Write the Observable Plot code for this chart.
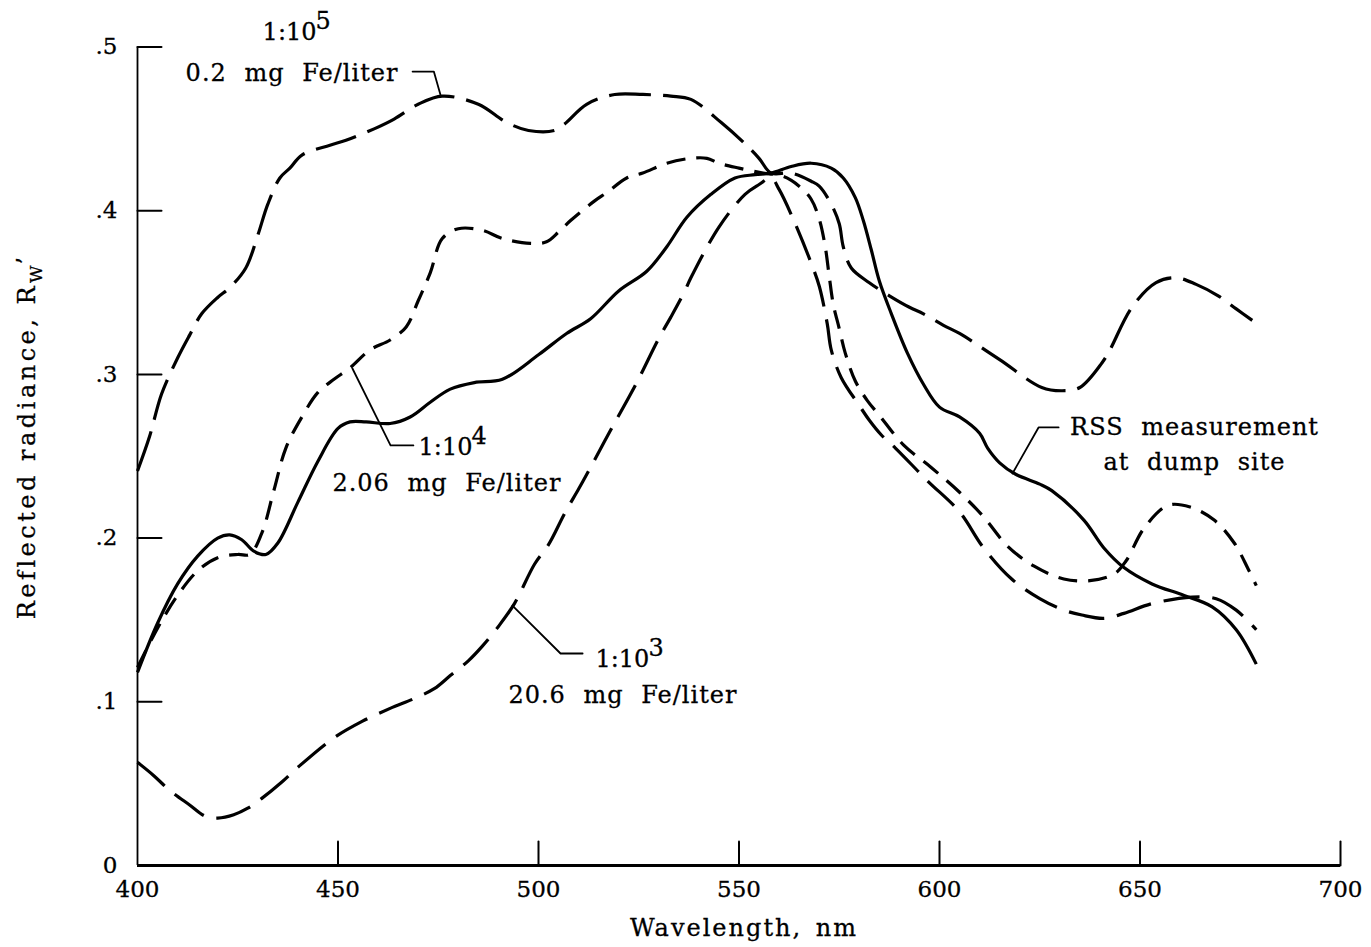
<!DOCTYPE html>
<html>
<head>
<meta charset="utf-8">
<script src="https://cdn.jsdelivr.net/npm/d3@7"></script>
<script src="https://cdn.jsdelivr.net/npm/@observablehq/plot@0.6"></script>
<style>
  body { margin: 0; background: #fff; }
  #chart svg { display: block; background: #fff; }
</style>
</head>
<body>
<div id="chart"></div>
<script>
// ---------- axis ticks ----------
const wavelengthTicks = [400, 450, 500, 550, 600, 650, 700];
const radianceTicks = [0, 0.1, 0.2, 0.3, 0.4, 0.5];
const radianceTickLabels = ["0", ".1", ".2", ".3", ".4", ".5"];

// ---------- RSS measurement at dump site (solid) ----------
const rssWavelength = [400,405,410,415,420,423,426,429,432,435,440,445,450,453,457,463,468,473,478,484,491,500,507,513,520,527,532,537,543,549,554,558,563,568,573,576,579,581,583,585,588,592,596,600,605,610,612,615,619,625,628,636,641,646,653,661,668,674,679];
const rssRadiance = [.118,.148,.172,.189,.200,.202,.199,.192,.190,.197,.222,.247,.267,.271,.271,.270,.274,.283,.291,.295,.297,.312,.325,.334,.351,.363,.378,.396,.410,.420,.422,.423,.427,.429,.426,.420,.408,.394,.376,.357,.337,.313,.294,.280,.274,.264,.255,.246,.239,.233,.229,.211,.194,.182,.172,.165,.158,.144,.123];

// ---------- 1:10^5, 0.2 mg Fe/liter (long dash) ----------
const e5Wavelength = [400,403,406,410,413,416,420,423,427,430,432.5,435.5,438,441,448,452,459,464,470,476,485,492,497.5,504,506.5,512,519,526,533,538,545.5,551,555,558,563,568,570,573,575,576,578,582.5,587.5,592.5,596,601,605,615,625.5,630.5,635,640.5,642.5,648,654,659,664,669.5,674,678];
const e5Radiance = [.241,.262,.288,.310,.324,.337,.347,.353,.365,.385,.404,.420,.426,.434,.440,.443,.450,.456,.465,.470,.465,.454,.449,.449,.453,.465,.471,.471,.470,.468,.454,.442,.432,.423,.423,.418,.415,.404,.392,.378,.365,.356,.348,.341,.337,.330,.325,.309,.292,.290,.292,.307,.315,.341,.356,.359,.355,.348,.340,.333];

// ---------- 1:10^4, 2.06 mg Fe/liter (short dash) ----------
const e4Wavelength = [400,405,410,415,420,425,428,431,434,437,441,445,449,453,458,463,467,470,473,476,480,486,491,498,502,505,508,514,517,522,526,532,538,542,545,550,556,561,565,568,570,571.5,572.5,573.5,575,576.5,579,582,585,591,598,605,611,617,623.5,631,637.5,643.5,646.5,651,657,662.5,668.5,673.5,677,679];
const e4Radiance = [.121,.145,.165,.180,.188,.190,.190,.203,.229,.255,.274,.289,.297,.304,.315,.321,.329,.345,.362,.383,.389,.388,.383,.380,.381,.387,.394,.406,.411,.420,.423,.429,.432,.432,.429,.426,.423,.421,.415,.407,.395,.378,.360,.343,.328,.313,.296,.284,.275,.257,.243,.228,.213,.195,.183,.175,.174,.178,.186,.206,.220,.219,.211,.197,.181,.171];

// ---------- 1:10^3, 20.6 mg Fe/liter (long dash) ----------
const e3Wavelength = [400,404,408,413,417,420,424,427.5,431,436,440,449,456,463,469,474,478,482.5,486,490,494,499,502.5,506.5,510,512.5,518,524.5,530,533,536.5,538,545,551.5,555,558,560,563.5,568,570,572,573,575.5,580,582.5,585.5,589,597,605,611,618,625,631,635.5,641,646,653,663,669,674,679];
const e3Radiance = [.063,.055,.046,.037,.030,.029,.031,.035,.041,.051,.060,.078,.088,.096,.102,.108,.116,.125,.134,.146,.160,.184,.196,.215,.230,.241,.266,.295,.322,.335,.351,.359,.390,.410,.416,.420,.413,.395,.368,.354,.331,.315,.298,.281,.272,.263,.255,.235,.216,.194,.175,.163,.156,.153,.151,.154,.160,.164,.163,.156,.144];

// ---------- annotation texts ----------
const ratioText = ["1:10", "1:10", "1:10"];
const ratioExponent = ["5", "4", "3"];
const ratioWavelength = [431.2, 470.1, 514.2];
const ratioRadiance = [0.504, 0.2505, 0.121];
const concText = ["0.2 mg Fe/liter", "2.06 mg Fe/liter", "20.6 mg Fe/liter"];
const concWavelength = [412.0, 448.6, 492.5];
const concRadiance = [0.479, 0.229, 0.099];
const rssLabel = ["RSS measurement", "at dump site"];
const rssLabelWavelength = [663.6, 663.6];
const rssLabelRadiance = [0.2627, 0.2413];

// leader lines (wavelength, radiance)
const leaderE5 = [[468.6, 0.485], [473.9, 0.485], [475.6, 0.4704]];
const leaderE4 = [[453.6, 0.3036], [463.1, 0.2566], [468.8, 0.2566]];
const leaderE3 = [[493.5, 0.1588], [505.5, 0.1295], [511.0, 0.1295]];
const leaderRss = [[618.2, 0.2395], [624.7, 0.2676], [629.7, 0.2676]];

// ---------- build tables ----------
const toRows = (wl, r) => wl.map((w, i) => ({wl: w, r: r[i]}));
const rssRows = toRows(rssWavelength, rssRadiance);
const e5Rows = toRows(e5Wavelength, e5Radiance);
const e4Rows = toRows(e4Wavelength, e4Radiance);
const e3Rows = toRows(e3Wavelength, e3Radiance);
const ratios = ratioText.map((t, i) => ({t, s: ratioExponent[i], wl: ratioWavelength[i], r: ratioRadiance[i]}));
const concs = concText.map((t, i) => ({t, wl: concWavelength[i], r: concRadiance[i]}));
const rssLabels = rssLabel.map((t, i) => ({t, wl: rssLabelWavelength[i], r: rssLabelRadiance[i]}));

const font = "DejaVu Serif";
const tickShape = { draw(context, l) { context.moveTo(0, 0); context.lineTo(0, -l); } };
const curveLine = (rows, dash) => Plot.line(rows, {
  x: "wl", y: "r", stroke: "#000", strokeWidth: 3.2, curve: "catmull-rom",
  strokeDasharray: dash, strokeLinecap: "butt", strokeLinejoin: "round"
});
const leader = (pts) => Plot.line(pts, {x: d => d[0], y: d => d[1], stroke: "#000", strokeWidth: 1.8});

const chart = Plot.plot({
  width: 1371,
  height: 947,
  marginLeft: 137,
  marginRight: 31,
  marginTop: 46.5,
  marginBottom: 82,
  style: {fontFamily: font, fontSize: "22px", color: "#000", background: "#fff"},
  x: {domain: [400, 700], axis: null},
  y: {domain: [0, 0.5], axis: null},
  marks: [
    // axes
    Plot.ruleX([400], {y1: 0, y2: 0.5, stroke: "#000", strokeWidth: 1.8}),
    Plot.ruleY([0], {x1: 400, x2: 700, stroke: "#000", strokeWidth: 3}),
    Plot.vector(radianceTicks.slice(1), {x: () => 400, y: d => d, length: 24, rotate: 90, anchor: "start", shape: tickShape, stroke: "#000", strokeWidth: 2}),
    Plot.vector(wavelengthTicks.slice(1), {x: d => d, y: () => 0, length: 24, rotate: 0, anchor: "start", shape: tickShape, stroke: "#000", strokeWidth: 2}),
    Plot.axisY({ticks: radianceTicks, tickFormat: (d, i) => radianceTickLabels[i], tickSize: 0, tickPadding: 20, fontSize: 23, label: null}),
    Plot.axisX({ticks: wavelengthTicks, tickFormat: d => String(d), tickSize: 0, tickPadding: 15, fontSize: 23, label: null}),
    Plot.text(["Wavelength, nm"], {frameAnchor: "bottom", dx: 5, dy: 70, lineAnchor: "bottom", fontSize: 24}),
    Plot.text(["Reflected radiance, R"], {frameAnchor: "left", dx: -110, dy: -20, rotate: -90, textAnchor: "middle", fontSize: 24}),
    // curves
    curveLine(e5Rows, "42,12"),
    curveLine(e3Rows, "36,13"),
    curveLine(e4Rows, "19,11"),
    curveLine(rssRows, null),
    // leaders
    leader(leaderE5), leader(leaderE4), leader(leaderE3), leader(leaderRss),
    // annotations
    Plot.text(ratios, {x: "wl", y: "r", text: "t", textAnchor: "start", lineAnchor: "bottom", fontSize: 24}),
    Plot.text(ratios, {x: "wl", y: "r", text: "s", textAnchor: "start", lineAnchor: "bottom", dx: 53, dy: -11, fontSize: 24}),
    Plot.text(concs, {x: "wl", y: "r", text: "t", textAnchor: "start", lineAnchor: "bottom", fontSize: 24}),
    Plot.text(rssLabels, {x: "wl", y: "r", text: "t", textAnchor: "middle", lineAnchor: "bottom", fontSize: 24})
  ]
});

// typographic spacing (typewriter-like) by text content
const root = d3.select(chart);
const spaced = new Set([...concText, ...rssLabel]);
root.selectAll("text").each(function() {
  const s = this.textContent;
  const t = d3.select(this);
  t.style("stroke", "#000").style("stroke-width", "0.3px");
  if (spaced.has(s)) t.style("letter-spacing", "1px").style("word-spacing", "9px");
  else if (s === "Wavelength, nm") t.style("letter-spacing", "2px").style("word-spacing", "4px");
  else if (s === "Reflected radiance, R") {
    t.style("letter-spacing", "3.5px");
    t.append("tspan").attr("font-size", 17).attr("dy", "7").attr("letter-spacing", "1px").text("W");
    t.append("tspan").attr("dy", "-8").text("\u2019");
  }
});

document.getElementById("chart").appendChild(chart);
</script>
</body>
</html>
